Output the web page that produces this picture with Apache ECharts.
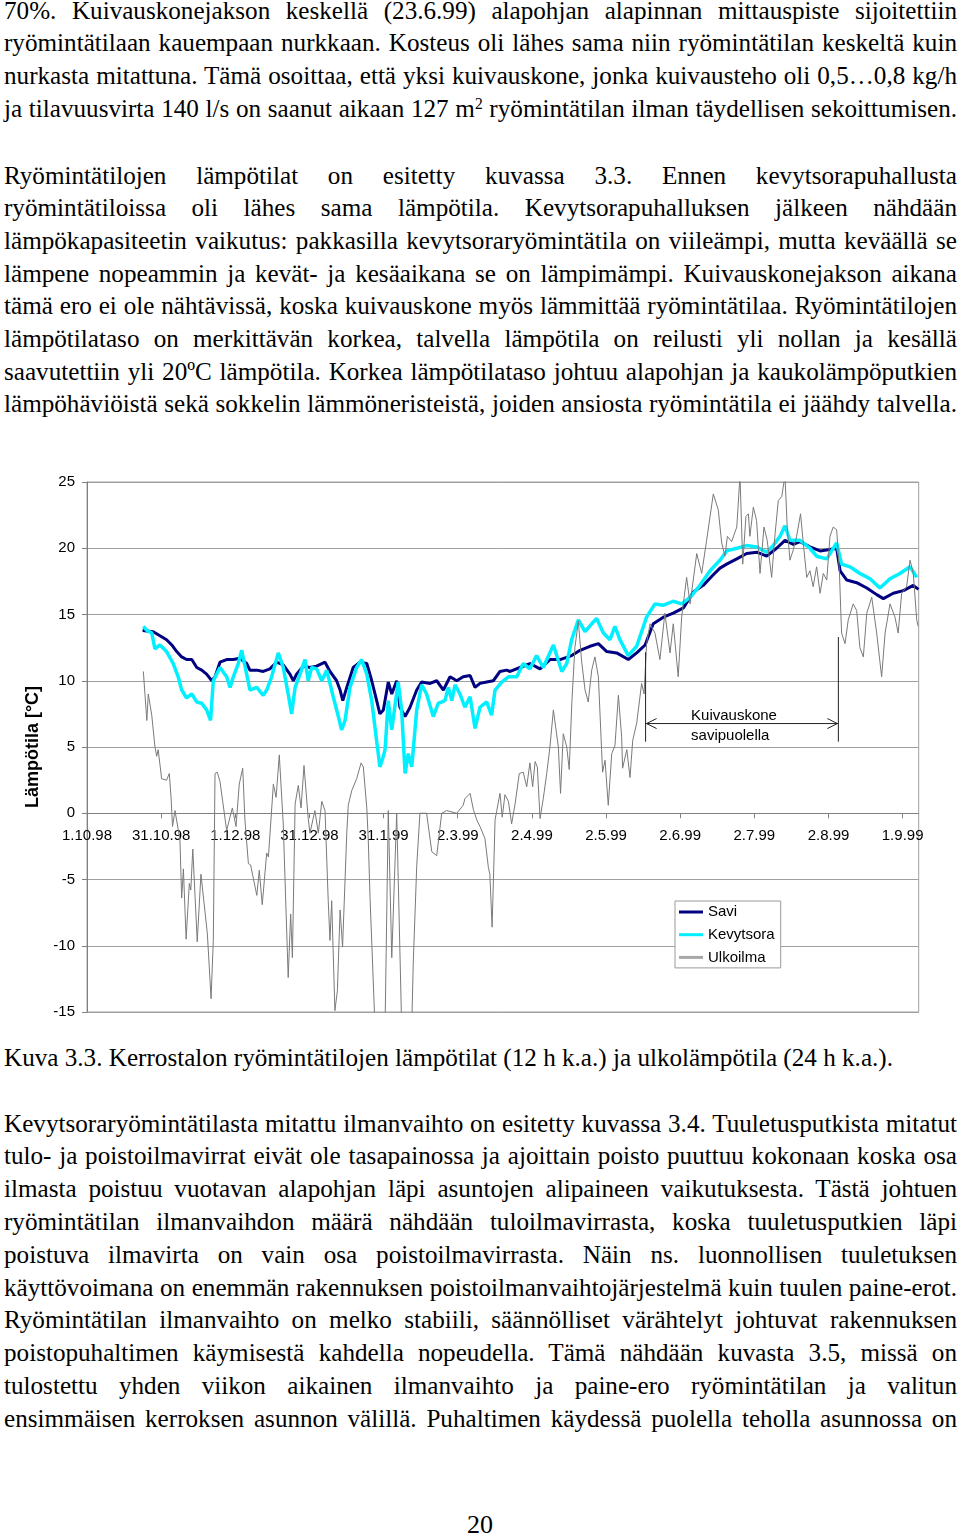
<!DOCTYPE html>
<html>
<head>
<meta charset="utf-8">
<script src="https://cdn.jsdelivr.net/npm/echarts@6/dist/echarts.min.js"></script>
<style>
html,body{margin:0;padding:0;background:#fff;}
body{width:960px;height:1533px;position:relative;overflow:hidden;}
.ln{position:absolute;left:4px;white-space:nowrap;font-family:"Times New Roman","Liberation Serif",serif;font-size:26px;line-height:1;color:#000;transform-origin:0 0;}
.sup{position:relative;top:-0.45em;font-size:0.62em;}
#chart{position:absolute;left:0;top:440px;width:960px;height:600px;}
</style>
</head>
<body>
<div id="chart"></div>
<script>
// ---------------- chart data ----------------
const tickLabels = ['1.10.98','31.10.98','1.12.98','31.12.98','31.1.99','2.3.99','2.4.99','2.5.99','2.6.99','2.7.99','2.8.99','1.9.99'];
const tickStepDays = 30;
const axisMaxDays = 336.5;
const yMin = -15, yMax = 25, yStep = 5;

// Savi (days from 1.10.98, °C)
const saviDay = [22.5,26.8,29.5,32.2,34.3,36.3,38.3,40.3,42.4,44.4,
46.4,48.4,50.5,51.8,53.8,56.5,59.2,61.9,64.6,65.9,
68.7,71.3,74.0,76.7,79.4,82.1,83.5,84.8,87.5,90.2,
92.9,96.3,98.3,101.0,102.4,103.5,105.1,107.7,110.5,113.2,
115.2,117.2,118.5,119.9,121.9,123.3,125.3,126.6,128.7,130.7,
133.4,135.4,138.8,141.5,144.2,146.9,149.6,152.2,155.0,157.0,
159.0,161.7,164.4,167.1,169.8,171.2,175.2,179.2,183.3,187.3,
191.4,196.1,199.5,203.5,206.9,210.3,214.3,219.0,222.4,225.8,
229.1,233.2,237.2,241.3,245.3,249.3,253.4,256.1,258.8,262.9,
266.9,271.0,275.0,279.0,282.4,285.8,288.5,292.5,296.6,300.6,
303.3,304.7,307.4,311.4,315.5,319.5,322.2,326.2,330.3,334.3,336.4];
const saviTemp = [13.8,13.7,13.4,13.1,12.7,12.2,11.8,11.6,11.6,11.0,
10.8,10.5,10.0,10.3,11.4,11.6,11.6,11.7,11.3,10.8,
10.8,10.7,10.9,11.4,11.2,10.5,10.0,10.5,11.1,11.0,
11.1,11.4,10.7,10.0,9.3,8.5,9.5,11.0,11.4,11.3,
10.0,8.5,7.5,7.8,9.9,9.0,10.0,8.0,7.3,8.0,
9.3,9.9,9.8,10.0,9.3,10.3,10.0,10.3,10.4,9.5,
9.8,9.9,10.0,10.7,10.8,10.7,11.0,11.3,10.9,11.6,
11.6,11.9,12.3,12.6,12.8,12.2,12.1,11.6,12.1,12.7,
14.3,14.8,15.1,15.5,16.7,17.2,18.0,18.5,18.8,19.2,
19.6,19.7,19.4,20.0,20.6,20.3,20.5,20.1,19.8,19.9,
20.0,18.3,17.6,17.4,17.0,16.5,16.2,16.6,16.8,17.2,16.9];

// Kevytsora
const kevytDay = [22.8,24.2,26.2,27.5,29.5,32.2,34.9,36.9,38.3,40.3,
42.4,44.4,46.4,48.4,50.0,51.1,53.8,56.5,57.9,59.2,
61.2,62.6,64.6,65.9,68.7,71.3,72.7,74.7,77.4,79.4,
81.4,82.8,84.2,86.2,88.2,89.5,90.9,92.9,95.0,97.0,
99.6,101.7,103.0,104.4,106.4,109.1,111.1,113.2,115.2,116.5,
118.5,119.9,120.6,121.9,123.3,125.9,127.3,128.7,130.0,131.4,
133.4,135.4,137.4,140.1,142.1,144.8,146.2,147.6,148.9,150.9,
152.9,155.0,157.0,159.0,161.7,163.7,165.1,167.8,170.5,173.9,
176.5,179.2,181.9,184.6,188.7,192.1,194.1,196.1,198.8,201.5,
204.2,206.2,208.9,211.6,213.6,215.6,219.0,222.4,226.4,229.8,
233.2,237.2,240.6,244.0,248.0,252.1,256.1,258.8,262.9,266.9,
271.0,275.0,277.6,280.4,282.4,284.4,288.5,292.5,295.2,299.3,
303.3,305.3,308.7,312.7,316.8,320.8,324.9,328.9,333.0,335.7];
const kevytTemp = [14.1,13.8,13.6,12.4,12.7,12.2,11.3,10.3,9.3,8.7,
9.0,8.4,8.3,7.8,7.0,10.0,11.0,10.3,9.5,10.3,
11.3,12.3,10.5,9.3,9.5,8.9,9.3,10.3,12.1,11.0,
9.0,7.5,9.5,10.5,11.6,10.0,11.0,10.9,10.0,10.8,
8.8,7.3,6.3,7.0,9.5,11.0,11.6,10.5,8.5,6.5,
3.5,4.3,4.8,8.5,6.3,9.9,7.8,3.0,4.5,3.5,
7.8,9.7,9.0,7.3,8.3,8.5,9.5,8.5,9.7,9.0,
8.0,8.8,6.4,8.0,8.4,7.4,9.3,9.9,10.3,10.3,
11.3,10.9,11.9,11.0,12.7,10.7,11.3,13.1,14.6,13.7,
14.3,14.7,13.6,13.1,14.1,13.1,11.9,12.6,14.8,15.8,
15.7,16.0,15.8,16.3,17.2,18.3,19.1,19.8,20.0,20.2,
20.1,19.7,20.2,20.9,21.7,20.6,20.6,20.0,19.4,19.2,
20.4,18.8,18.6,18.1,17.7,17.0,17.7,18.1,18.6,17.8];

// Ulkoilma
const ulkoDay = [22.8,24.2,24.8,26.2,27.5,28.2,28.8,30.2,32.2,33.3,
34.0,34.6,35.6,36.4,37.6,38.3,39.0,40.1,41.4,42.0,
42.8,44.6,46.1,48.7,50.2,51.1,51.8,52.7,53.8,54.9,
56.5,58.8,60.3,61.6,63.0,63.9,65.3,66.2,68.7,69.7,
70.9,72.7,73.4,75.4,76.5,77.8,79.4,81.4,82.4,83.1,
84.2,85.5,86.6,87.8,89.5,90.2,92.2,93.6,95.0,96.3,
97.6,98.3,99.0,100.3,101.3,102.4,103.4,105.1,105.7,107.1,
109.1,110.9,111.8,113.2,113.8,114.5,116.5,118.5,120.6,121.9,
123.3,125.3,127.3,129.1,131.4,132.0,133.4,134.7,137.4,139.5,
141.5,143.5,145.5,149.6,152.2,152.9,155.0,156.3,157.7,159.0,
161.0,162.4,163.0,163.9,165.1,165.8,167.1,168.0,169.1,170.5,
171.8,173.2,174.9,176.5,177.9,179.2,180.3,181.3,182.2,183.3,
184.6,186.0,187.3,188.7,190.7,191.6,192.7,194.1,195.1,196.2,
197.4,198.8,200.1,201.5,202.8,204.2,205.5,206.9,208.2,208.6,
209.6,210.9,212.3,213.6,215.0,216.3,216.7,218.4,219.7,220.8,
222.4,224.4,225.4,226.4,227.8,229.8,231.8,233.8,235.9,237.2,
239.2,240.6,242.6,244.0,246.7,248.7,250.7,253.4,255.4,256.8,
258.1,259.1,260.8,262.9,264.2,265.3,266.6,267.6,268.2,269.6,
270.9,272.3,273.9,275.2,277.0,278.4,279.7,281.1,282.4,283.3,
284.4,285.8,287.1,288.7,289.8,291.2,292.5,293.8,295.2,296.6,
297.9,299.3,300.6,301.9,303.3,304.4,305.3,306.7,308.0,310.0,
311.4,312.7,314.1,315.5,317.5,319.5,321.5,322.9,324.9,326.9,
328.2,329.6,331.6,333.0,334.3,335.7,336.3];
const ulkoTemp = [10.7,7.0,9.0,7.4,5.0,4.3,4.8,2.6,2.5,3.0,
1.2,-1.0,0.2,0.1,-2.0,-6.4,-4.2,-9.5,-5.3,-5.8,
-2.7,-9.7,-4.6,-9.1,-14.0,-9.6,3.0,3.1,2.4,0.9,
-1.3,0.4,-1.0,2.2,3.4,-0.5,-3.8,-3.9,-6.2,-4.3,
-6.9,-3.0,-3.3,2.2,1.2,4.4,-0.8,-12.4,-7.6,-10.9,
0.7,2.1,0.4,3.6,-0.4,-1.5,0.2,-1.5,0.9,0.2,
-6.6,-9.6,-6.6,-14.9,-13.4,-7.3,-10.1,-1.5,0.6,1.7,
2.6,3.8,3.5,0.4,-2.0,-6.3,-16.0,-18.0,-16.0,0.2,
-10.9,0.0,-16.0,-18.0,-16.0,-11.3,-4.0,0.0,0.0,-2.9,
-3.2,0.0,0.2,0.0,0.6,1.1,1.5,0.3,-0.5,-1.0,
-1.9,-4.1,-4.6,-8.6,-0.5,0.2,1.5,-0.3,1.4,0.9,
-0.8,0.7,3.0,3.1,2.0,3.8,2.0,3.9,3.5,-0.4,
1.1,3.0,5.0,7.8,5.0,1.5,6.0,5.0,3.3,8.5,
12.5,14.5,11.5,9.3,8.4,10.8,11.8,10.3,4.8,3.1,
4.0,0.6,4.5,5.1,8.9,5.8,3.4,4.8,2.7,5.5,
6.8,9.8,9.0,12.8,14.3,13.6,11.6,15.1,12.1,14.3,
10.3,14.8,17.8,15.8,19.6,18.1,20.6,24.1,22.9,20.4,
19.4,20.9,20.5,21.6,25.5,18.8,22.4,22.6,20.9,23.1,
22.1,18.1,21.6,20.6,17.8,21.1,23.6,23.9,25.5,21.6,
19.1,19.9,20.9,22.6,20.4,17.8,18.3,17.1,18.6,16.6,
18.1,17.6,20.9,21.6,21.4,18.3,13.6,12.8,14.6,15.8,
15.3,12.5,11.8,15.1,16.3,13.6,10.3,13.6,15.8,14.8,
13.6,16.6,17.1,19.1,18.1,14.6,14.1];

// dryer period annotation (days, °C)
const dryerStartDay = 226.0;
const dryerEndDay = 304.0;
const dryerArrowTemp = 6.77;
const dryerLeftTopTemp = 12.15;
const dryerRightTopTemp = 13.3;
const dryerBottomTemp = 5.4;
const dryerLabelDay = 244.4;
const dryerLabelTemps = [7.32, 5.81];
const dryerLabelTexts = ['Kuivauskone', 'savipuolella'];

function pairs(xs, ys){ const n=Math.min(xs.length, ys.length); const r=[]; for(let i=0;i<n;i++) r.push([xs[i], ys[i]]); return r; }

const SANS = 'Arial, "Liberation Sans", sans-serif';
const gridH = 530;
// x axis drawn on the zero line of the temperature axis
const xAxisOffset = -gridH * (0 - yMin) / (yMax - yMin);
const chart = echarts.init(document.getElementById('chart'), null, {renderer:'canvas'});
chart.setOption({
  animation:false,
  backgroundColor:'transparent',
  grid:{left:87, top:42, width:831.7, height:gridH, show:true, borderColor:'#a0a0a0', borderWidth:1, backgroundColor:'transparent', containLabel:false, outerBoundsMode:'none'},
  legend:{
    left:675, top:461, orient:'vertical', icon:'rect', itemWidth:24, itemHeight:3, itemGap:7.7,
    padding:[3.5,6,3,4], backgroundColor:'#fff', borderColor:'#9a9a9a', borderWidth:1, borderRadius:0,
    textStyle:{fontFamily:SANS, fontSize:15, color:'#000', lineHeight:15},
    data:['Savi','Kevytsora','Ulkoilma'], selectedMode:false
  },
  xAxis:{
    type:'value', min:0, max:axisMaxDays, interval:tickStepDays, position:'bottom', offset:xAxisOffset,
    axisLine:{show:true, onZero:false, lineStyle:{color:'#808080', width:1}},
    axisTick:{show:true, length:5, inside:false, lineStyle:{color:'#808080'}},
    axisLabel:{show:true, margin:15, color:'#000', fontFamily:SANS, fontSize:15, showMinLabel:true, showMaxLabel:false,
      formatter:function(v){ const i=Math.round(v/tickStepDays); return Math.abs(v-i*tickStepDays)<1e-6 ? (tickLabels[i]||'') : ''; }},
    splitLine:{show:false}
  },
  yAxis:{
    type:'value', min:yMin, max:yMax, interval:yStep,
    name:'Lämpötila [°C]', nameLocation:'middle', nameGap:38, nameRotate:90,
    nameTextStyle:{fontFamily:SANS, fontSize:18, fontWeight:'bold', color:'#000'},
    axisLine:{show:true, onZero:false, lineStyle:{color:'#808080', width:1}},
    axisTick:{show:true, length:5, lineStyle:{color:'#808080'}},
    axisLabel:{margin:12, color:'#000', fontFamily:SANS, fontSize:15},
    splitLine:{show:true, lineStyle:{color:'#a0a0a0', width:1}}
  },
  series:[
    {name:'Savi', type:'line', data:pairs(saviDay, saviTemp), showSymbol:false, symbol:'none', silent:true, z:2,
      lineStyle:{color:'#000080', width:3}, itemStyle:{color:'#000080'}},
    {name:'Kevytsora', type:'line', data:pairs(kevytDay, kevytTemp), showSymbol:false, symbol:'none', silent:true, z:3,
      lineStyle:{color:'#00f0ff', width:3.5}, itemStyle:{color:'#00f0ff'}},
    {name:'Ulkoilma', type:'line', data:pairs(ulkoDay, ulkoTemp), showSymbol:false, symbol:'none', silent:true, z:4,
      lineStyle:{color:'#7a7a7a', width:1}, itemStyle:{color:'#a8a8a8'}},
    {type:'custom', silent:true, z:5, clip:false, data:[[dryerStartDay, dryerArrowTemp]],
      renderItem:function(params, api){
        const a = api.coord([dryerStartDay, dryerArrowTemp]);
        const b = api.coord([dryerEndDay, dryerArrowTemp]);
        const lt = api.coord([dryerStartDay, dryerLeftTopTemp]);
        const lb = api.coord([dryerStartDay, dryerBottomTemp]);
        const rt = api.coord([dryerEndDay, dryerRightTopTemp]);
        const rb = api.coord([dryerEndDay, dryerBottomTemp]);
        const st = {stroke:'#222', lineWidth:1, fill:null};
        const kids = [
          {type:'line', shape:{x1:lt[0],y1:lt[1],x2:lb[0],y2:lb[1]}, style:st},
          {type:'line', shape:{x1:rt[0],y1:rt[1],x2:rb[0],y2:rb[1]}, style:st},
          {type:'line', shape:{x1:a[0],y1:a[1],x2:b[0],y2:b[1]}, style:st},
          {type:'polyline', shape:{points:[[a[0]+11,a[1]-5],[a[0]+1,a[1]],[a[0]+11,a[1]+5]]}, style:st},
          {type:'polyline', shape:{points:[[b[0]-11,b[1]-5],[b[0]-1,b[1]],[b[0]-11,b[1]+5]]}, style:st}
        ];
        dryerLabelTexts.forEach(function(t, i){
          const p = api.coord([dryerLabelDay, dryerLabelTemps[i]]);
          kids.push({type:'text', style:{text:t, x:p[0], y:p[1], fill:'#000', font:'15px '+SANS, textAlign:'left', textVerticalAlign:'middle'}});
        });
        return {type:'group', children:kids};
      }}
  ]
});

// ---------------- page text ----------------
const F = 26;
const captionHtml = 'Kuva 3.3. Kerrostalon ryömintätilojen lämpötilat (12 h k.a.) ja ulkolämpötila (24 h k.a.).';
const paragraphs = [
  {first:19.5, pitch:32.6, lines:[
    '70%. Kuivauskonejakson keskellä (23.6.99) alapohjan alapinnan mittauspiste sijoitettiin',
    'ryömintätilaan kauempaan nurkkaan. Kosteus oli lähes sama niin ryömintätilan keskeltä kuin',
    'nurkasta mitattuna. Tämä osoittaa, että yksi kuivauskone, jonka kuivausteho oli 0,5…0,8 kg/h',
    'ja tilavuusvirta 140 l/s on saanut aikaan 127 m<span class="sup">2</span> ryömintätilan ilman täydellisen sekoittumisen.'
  ]},
  {first:184.3, pitch:32.7, lines:[
    'Ryömintätilojen lämpötilat on esitetty kuvassa 3.3. Ennen kevytsorapuhallusta',
    'ryömintätiloissa oli lähes sama lämpötila. Kevytsorapuhalluksen jälkeen nähdään',
    'lämpökapasiteetin vaikutus: pakkasilla kevytsoraryömintätila on viileämpi, mutta keväällä se',
    'lämpene nopeammin ja kevät- ja kesäaikana se on lämpimämpi. Kuivauskonejakson aikana',
    'tämä ero ei ole nähtävissä, koska kuivauskone myös lämmittää ryömintätilaa. Ryömintätilojen',
    'lämpötilataso on merkittävän korkea, talvella lämpötila on reilusti yli nollan ja kesällä',
    'saavutettiin yli 20ºC lämpötila. Korkea lämpötilataso johtuu alapohjan ja kaukolämpöputkien',
    'lämpöhäviöistä sekä sokkelin lämmöneristeistä, joiden ansiosta ryömintätila ei jäähdy talvella.'
  ]},
  {first:1132.3, pitch:32.8, lines:[
    'Kevytsoraryömintätilasta mitattu ilmanvaihto on esitetty kuvassa 3.4. Tuuletusputkista mitatut',
    'tulo- ja poistoilmavirrat eivät ole tasapainossa ja ajoittain poisto puuttuu kokonaan koska osa',
    'ilmasta poistuu vuotavan alapohjan läpi asuntojen alipaineen vaikutuksesta. Tästä johtuen',
    'ryömintätilan ilmanvaihdon määrä nähdään tuloilmavirrasta, koska tuuletusputkien läpi',
    'poistuva ilmavirta on vain osa poistoilmavirrasta. Näin ns. luonnollisen tuuletuksen',
    'käyttövoimana on enemmän rakennuksen poistoilmanvaihtojärjestelmä kuin tuulen paine-erot.',
    'Ryömintätilan ilmanvaihto on melko stabiili, säännölliset värähtelyt johtuvat rakennuksen',
    'poistopuhaltimen käymisestä kahdella nopeudella. Tämä nähdään kuvasta 3.5, missä on',
    'tulostettu yhden viikon aikainen ilmanvaihto ja paine-ero ryömintätilan ja valitun',
    'ensimmäisen kerroksen asunnon välillä. Puhaltimen käydessä puolella teholla asunnossa on'
  ]}
];
function makeLine(html){ const d=document.createElement('div'); d.className='ln'; d.innerHTML=html; document.body.appendChild(d); return d; }
const cap = makeLine(captionHtml);
const sx = 889 / cap.getBoundingClientRect().width;
function place(d, baseline, justify){
  const w = d.getBoundingClientRect().width;
  if (justify){
    const n = (d.textContent.match(/ /g)||[]).length;
    if (n>0) d.style.wordSpacing = ((953/sx - w)/n) + 'px';
  }
  d.style.transform = 'scaleX(' + sx + ')';
  d.style.top = (baseline - F*0.8375) + 'px';
}
place(cap, 1066.3, false);
paragraphs.forEach(function(p){
  p.lines.forEach(function(t, i){ place(makeLine(t), p.first + i*p.pitch, true); });
});
const pg = makeLine('20');
pg.style.left='0px'; pg.style.width='960px'; pg.style.textAlign='center';
pg.style.top = (1534 - F*0.8375) + 'px';
</script>
</body>
</html>
